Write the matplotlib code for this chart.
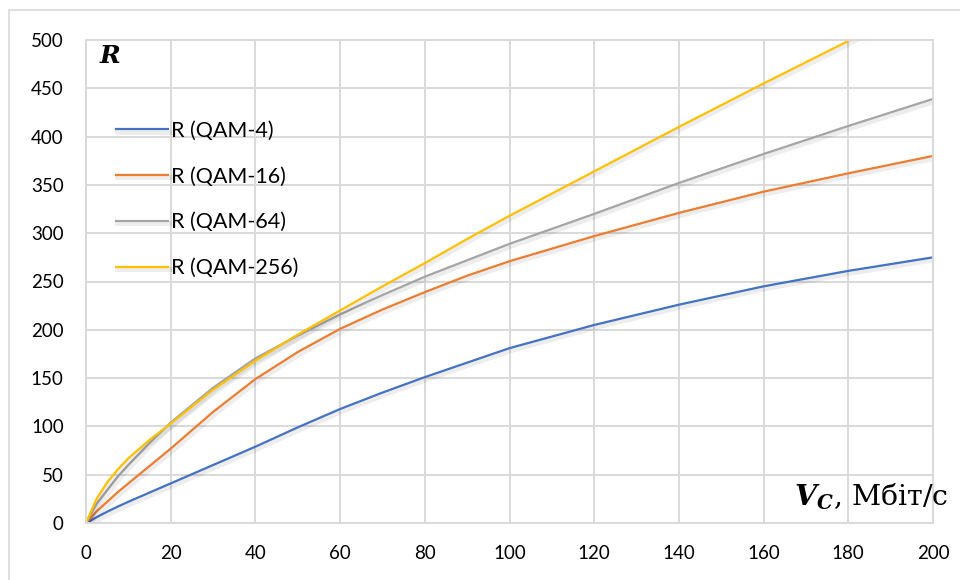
import matplotlib.pyplot as plt
import matplotlib.patheffects as pe
from matplotlib.patches import Rectangle

# Data rate V_C (Mbit/s) and R for each modulation
vc = [0, 2.5, 5, 7.5, 10, 15, 20, 30, 40, 50, 60, 70, 80, 90, 100,
      120, 140, 160, 180, 200]
r_qam4 = [0, 6, 11.7, 17, 22, 31.5, 41, 60, 79, 99, 118, 135, 151, 166, 181,
          205, 226, 245, 261, 275]
r_qam16 = [0, 12, 22, 32, 41, 59, 77, 115, 149, 177, 201, 221, 239, 256, 271,
           297, 321, 343, 362, 380]
r_qam64 = [0, 20, 34, 48, 60, 83, 104, 140, 170.5, 194, 216, 236, 255, 272, 289,
           320, 352, 382, 411, 439]
r_qam256 = [0, 25, 42, 55.5, 67, 86, 103, 138, 168, 195, 220, 245, 269, 294, 318,
            364, 410, 455, 499, 544]

series = [
    ('R (QAM-4)', r_qam4, '#4472C4'),
    ('R (QAM-16)', r_qam16, '#ED7D31'),
    ('R (QAM-64)', r_qam64, '#A5A5A5'),
    ('R (QAM-256)', r_qam256, '#FFC000'),
]

plt.rcParams['mathtext.fontset'] = 'dejavuserif'

fig = plt.figure(figsize=(9.6, 5.8), dpi=100)
ax = fig.add_axes([86 / 960, 1 - 523 / 580, 847 / 960, 483 / 580])

# chart border
fig.patches.append(Rectangle((9 / 960, -0.05), 1.1, 1 - 10 / 580 + 0.05,
                             transform=fig.transFigure, fill=False,
                             edgecolor='#d9d9d9', linewidth=1.2))

shadow = [pe.SimpleLineShadow(offset=(1.2, -1.8), shadow_color='black',
                              alpha=0.07, linewidth=3.5), pe.Normal()]
for label, vals, color in series:
    ax.plot(vc, vals, color=color, linewidth=1.6, label=label,
            path_effects=shadow)

ax.set_xlim(0, 200)
ax.set_ylim(0, 500)
ax.set_xticks(range(0, 201, 20))
ax.set_yticks(range(0, 501, 50))
ax.grid(True, color='#d9d9d9', linewidth=1.4)
ax.set_axisbelow(True)
for s in ax.spines.values():
    s.set_color('#d9d9d9')
    s.set_linewidth(1.4)
ax.tick_params(length=0, labelsize=13.5, pad=16, colors='black')
for t in ax.get_xticklabels() + ax.get_yticklabels():
    t.set_fontfamily('Lato')

leg = ax.legend(loc='upper left', bbox_to_anchor=(21 / 847, 1 - 72 / 483),
                frameon=False, prop={'family': 'Lato', 'size': 15.5},
                handlelength=2.45, handletextpad=0.1, labelspacing=1.2,
                borderaxespad=0)

ax.text(14 / 847, 1 - 23 / 483, 'R', transform=ax.transAxes,
        fontfamily='DejaVu Serif', fontweight='bold', fontstyle='italic',
        fontsize=18, ha='left', va='baseline')
ax.text(1 + 16 / 847, 17 / 483, r'$\mathbfit{V}_{\mathbfit{C}}$, Мбіт/с',
        transform=ax.transAxes, fontfamily='DejaVu Serif', fontsize=20.5,
        ha='right', va='baseline', clip_on=False)

plt.savefig('out.png', dpi=100)
